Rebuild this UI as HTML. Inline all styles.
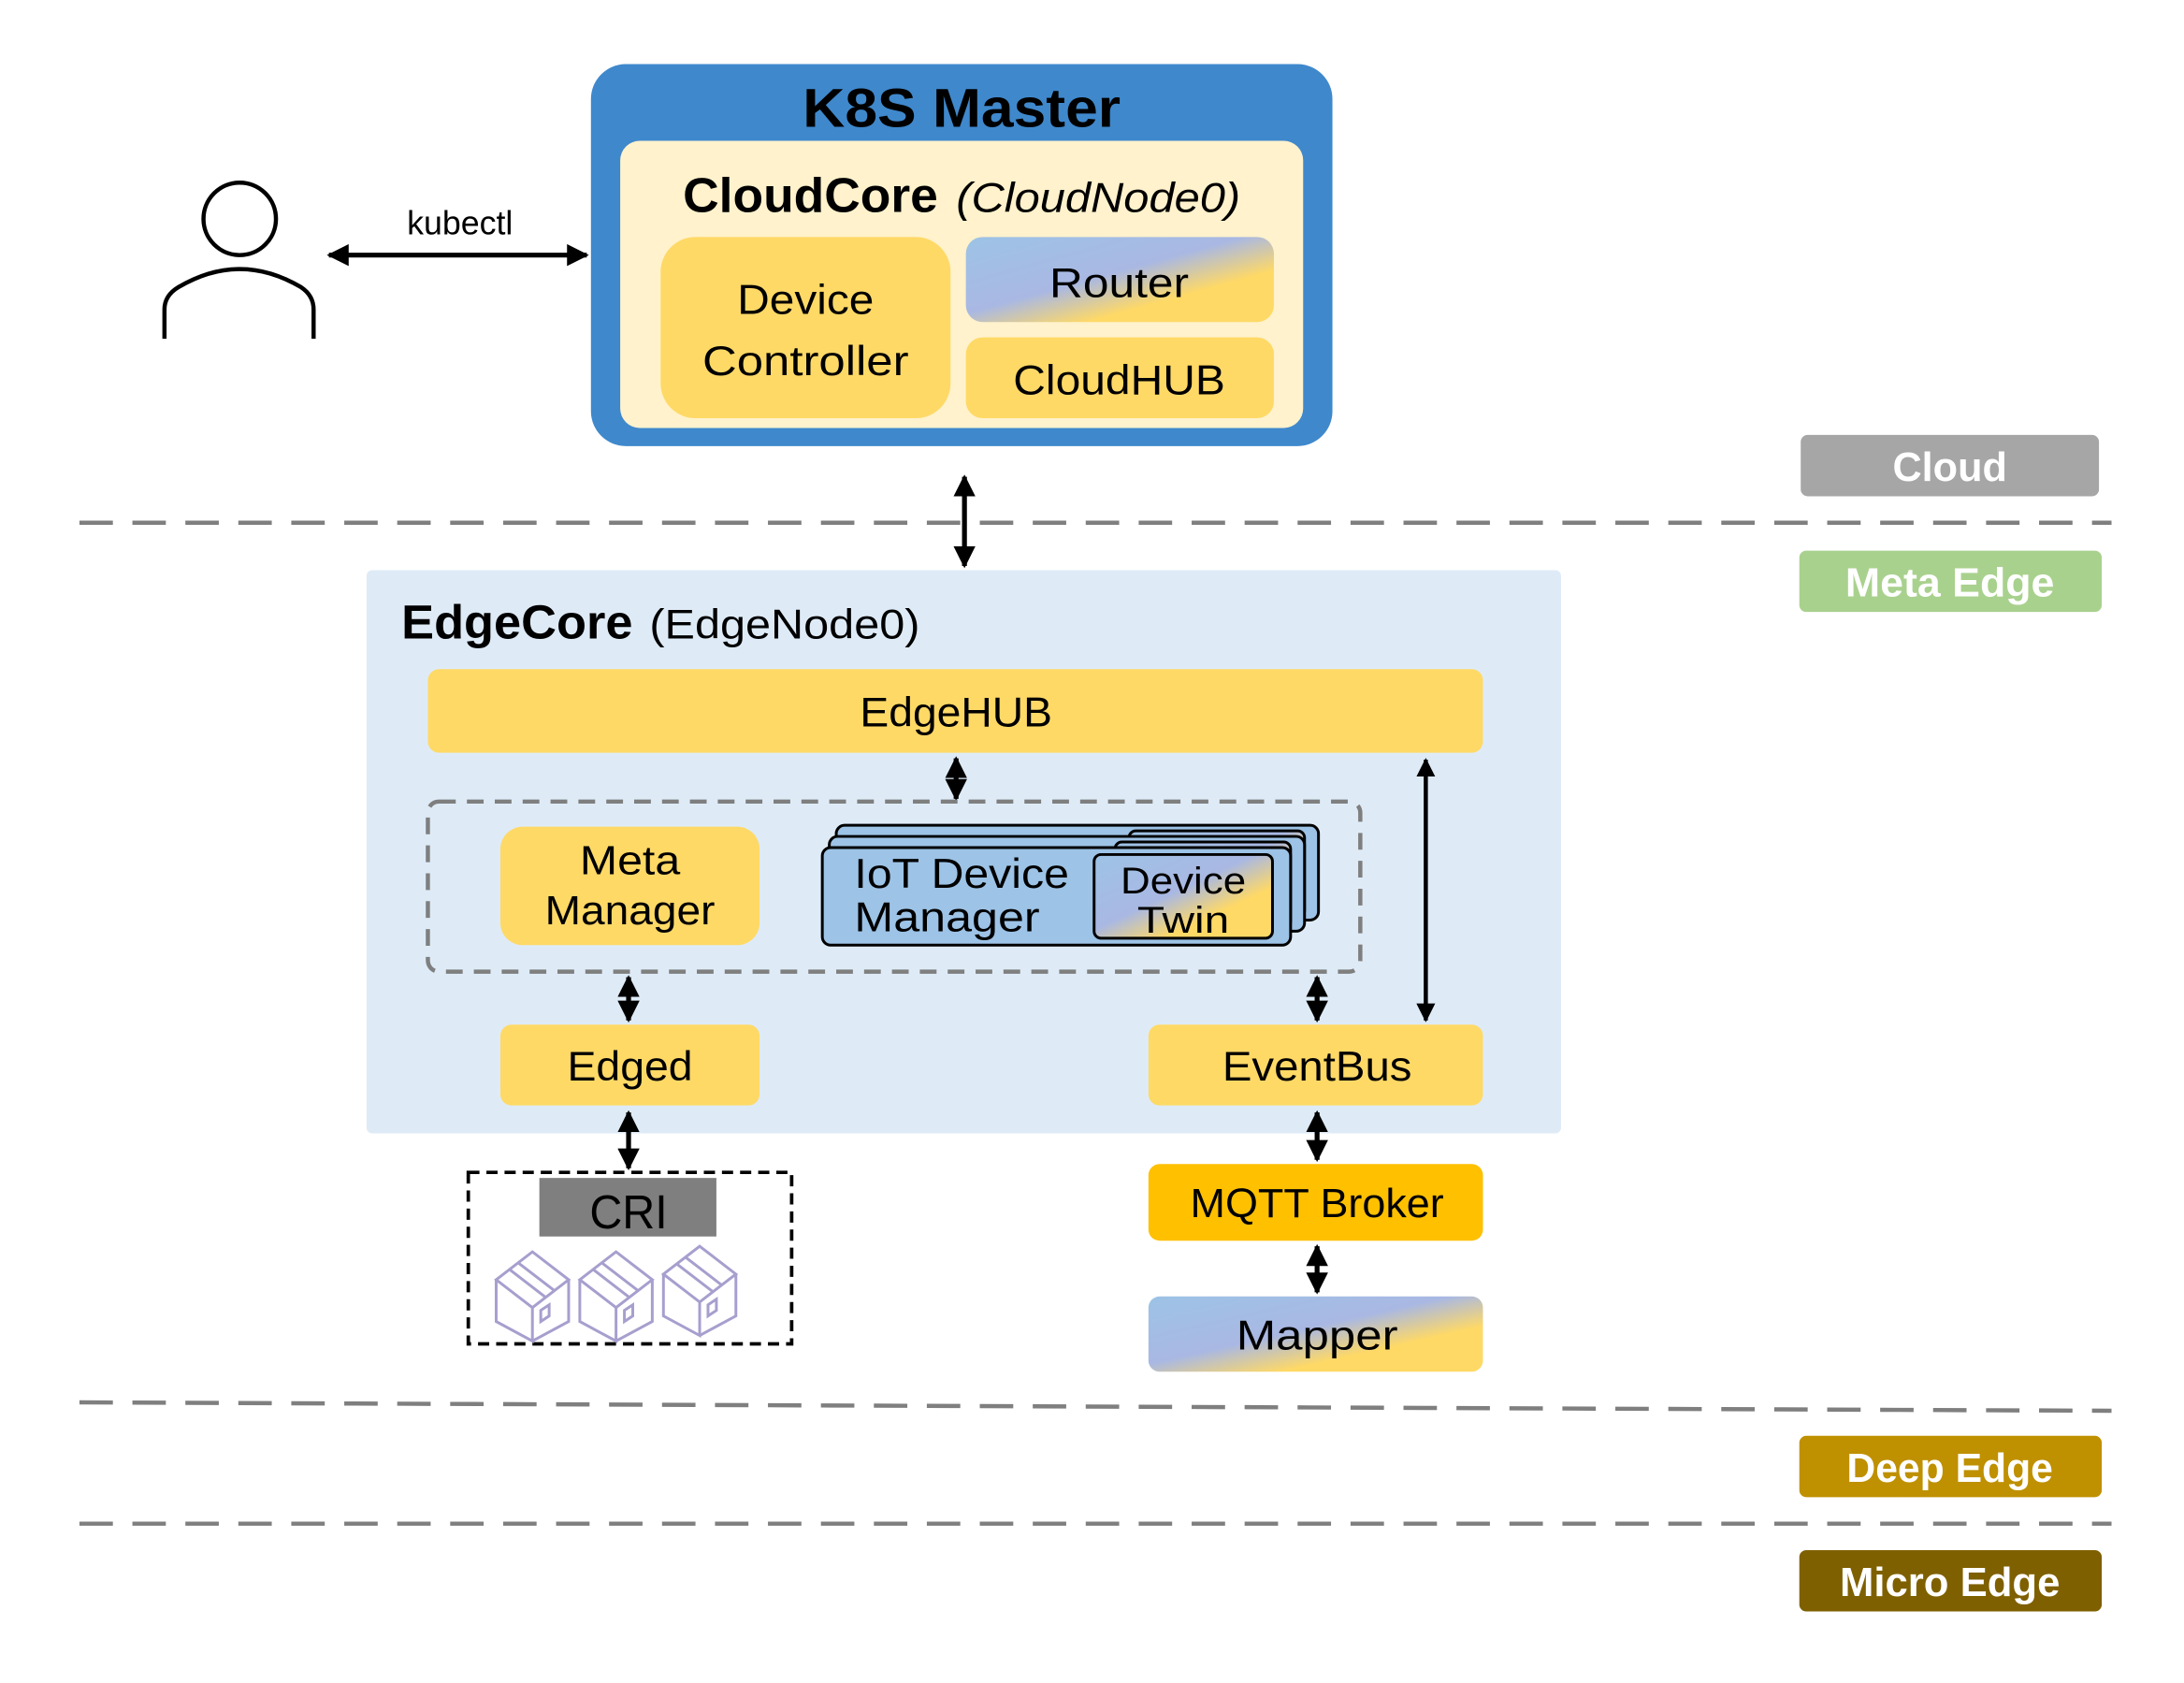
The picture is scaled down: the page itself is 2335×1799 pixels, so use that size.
<!DOCTYPE html>
<html><head><meta charset="utf-8"><style>
html,body{margin:0;padding:0;background:#fff;width:2335px;height:1799px;overflow:hidden}
svg{display:block}
text{font-family:"Liberation Sans",sans-serif}
</style></head><body>
<svg width="2335" height="1799" viewBox="0 0 1567 1207.3" preserveAspectRatio="none" xmlns="http://www.w3.org/2000/svg">
<defs>
<linearGradient id="g" x1="0" y1="0" x2="1" y2="1">
<stop offset="0" stop-color="#9dc3e6"/><stop offset="0.45" stop-color="#a9b8e3"/><stop offset="0.7" stop-color="#ffd966"/><stop offset="1" stop-color="#ffd966"/>
</linearGradient>
<marker id="a" viewBox="0 0 10 10" refX="9" refY="5" markerWidth="4.5" markerHeight="4.5" orient="auto-start-reverse"><path d="M0,0L10,5L0,10z" fill="#000"/></marker>
</defs>
<circle cx="172" cy="157" r="26" fill="none" stroke="#000" stroke-width="3"/>
<path d="M118,243 V222 Q118,212 128,206 Q150,193 172,193 Q194,193 216,206 Q225,212 225,222 V243" fill="none" stroke="#000" stroke-width="3"/>
<text x="330" y="168" font-size="24" text-anchor="middle">kubectl</text>
<line x1="236" y1="183" x2="421" y2="183" stroke="#000" stroke-width="3.5" marker-start="url(#a)" marker-end="url(#a)"/>
<rect x="424" y="46" width="532" height="274" rx="25" fill="#3f88cc"/>
<text x="690" y="91" font-size="39" font-weight="bold" text-anchor="middle" textLength="228" lengthAdjust="spacingAndGlyphs">K8S Master</text>
<rect x="445" y="101" width="490" height="206" rx="14" fill="#fff2cc"/>
<text x="490" y="152" font-size="35" font-weight="bold" textLength="183" lengthAdjust="spacingAndGlyphs">CloudCore</text>
<text x="686" y="152" font-size="30" font-style="italic" textLength="204" lengthAdjust="spacingAndGlyphs">(CloudNode0)</text>
<rect x="474" y="170" width="208" height="130" rx="25" fill="#ffd966"/>
<text x="578" y="225" font-size="30" text-anchor="middle" textLength="98" lengthAdjust="spacingAndGlyphs">Device</text>
<text x="578" y="269" font-size="30" text-anchor="middle" textLength="148" lengthAdjust="spacingAndGlyphs">Controller</text>
<rect x="693" y="170" width="221" height="61" rx="12" fill="url(#g)"/>
<text x="803" y="213" font-size="30" text-anchor="middle" textLength="100" lengthAdjust="spacingAndGlyphs">Router</text>
<rect x="693" y="242" width="221" height="58" rx="12" fill="#ffd966"/>
<text x="803" y="283" font-size="30" text-anchor="middle" textLength="152" lengthAdjust="spacingAndGlyphs">CloudHUB</text>
<line x1="692" y1="342" x2="692" y2="406" stroke="#000" stroke-width="3.5" marker-start="url(#a)" marker-end="url(#a)"/>
<g stroke="#7f7f7f" stroke-width="3" stroke-dasharray="24 14" fill="none">
<line x1="57" y1="375" x2="1515" y2="375"/>
<line x1="57" y1="1006" x2="1515" y2="1012"/>
<line x1="57" y1="1093" x2="1515" y2="1093"/>
</g>
<rect x="1292" y="312" width="214" height="44" rx="5" fill="#a6a6a6"/>
<text x="1399" y="345" font-size="29" font-weight="bold" fill="#fff" text-anchor="middle">Cloud</text>
<rect x="1291" y="395" width="217" height="44" rx="5" fill="#a9d18e"/>
<text x="1399" y="428" font-size="29" font-weight="bold" fill="#fff" text-anchor="middle" textLength="150" lengthAdjust="spacingAndGlyphs">Meta Edge</text>
<rect x="1291" y="1030" width="217" height="44" rx="5" fill="#bf9000"/>
<text x="1399" y="1063" font-size="29" font-weight="bold" fill="#fff" text-anchor="middle" textLength="148" lengthAdjust="spacingAndGlyphs">Deep Edge</text>
<rect x="1291" y="1112" width="217" height="44" rx="5" fill="#7f6000"/>
<text x="1399" y="1145" font-size="29" font-weight="bold" fill="#fff" text-anchor="middle" textLength="158" lengthAdjust="spacingAndGlyphs">Micro Edge</text>
<rect x="263" y="409" width="857" height="404" rx="4" fill="#deebf7"/>
<text x="288" y="458" font-size="34" font-weight="bold" textLength="166" lengthAdjust="spacingAndGlyphs">EdgeCore</text>
<text x="466" y="458" font-size="30" textLength="194" lengthAdjust="spacingAndGlyphs">(EdgeNode0)</text>
<rect x="307" y="480" width="757" height="60" rx="8" fill="#ffd966"/>
<text x="686" y="521" font-size="30" text-anchor="middle" textLength="138" lengthAdjust="spacingAndGlyphs">EdgeHUB</text>
<line x1="686" y1="544" x2="686" y2="573" stroke="#000" stroke-width="3.5" marker-start="url(#a)" marker-end="url(#a)"/>
<rect x="307" y="575" width="669" height="122" rx="8" fill="none" stroke="#7f7f7f" stroke-width="3" stroke-dasharray="12 8"/>
<rect x="359" y="593" width="186" height="85" rx="16" fill="#ffd966"/>
<text x="452" y="627" font-size="29" text-anchor="middle" textLength="72" lengthAdjust="spacingAndGlyphs">Meta</text>
<text x="452" y="663" font-size="29" text-anchor="middle" textLength="122" lengthAdjust="spacingAndGlyphs">Manager</text>
<rect x="600" y="592" width="346" height="68" rx="6" fill="#9dc3e6" stroke="#000" stroke-width="2"/>
<rect x="810" y="596" width="126" height="62" rx="5" fill="url(#g)" stroke="#000" stroke-width="2"/>
<rect x="595" y="600" width="341" height="68" rx="6" fill="#9dc3e6" stroke="#000" stroke-width="2"/>
<rect x="800" y="604" width="126" height="62" rx="5" fill="url(#g)" stroke="#000" stroke-width="2"/>
<rect x="590" y="608" width="336" height="70" rx="6" fill="#9dc3e6" stroke="#000" stroke-width="2"/>
<rect x="785" y="613" width="128" height="60" rx="5" fill="url(#g)" stroke="#000" stroke-width="2"/>
<text x="613" y="637" font-size="30" textLength="154" lengthAdjust="spacingAndGlyphs">IoT Device</text>
<text x="613" y="668" font-size="30" textLength="133" lengthAdjust="spacingAndGlyphs">Manager</text>
<text x="849" y="641" font-size="27" text-anchor="middle" textLength="90" lengthAdjust="spacingAndGlyphs">Device</text>
<text x="849" y="669" font-size="27" text-anchor="middle" textLength="66" lengthAdjust="spacingAndGlyphs">Twin</text>
<line x1="451" y1="701" x2="451" y2="732" stroke="#000" stroke-width="3.5" marker-start="url(#a)" marker-end="url(#a)"/>
<line x1="945" y1="701" x2="945" y2="732" stroke="#000" stroke-width="3.5" marker-start="url(#a)" marker-end="url(#a)"/>
<line x1="1023" y1="545" x2="1023" y2="732" stroke="#000" stroke-width="3" marker-start="url(#a)" marker-end="url(#a)"/>
<rect x="359" y="735" width="186" height="58" rx="8" fill="#ffd966"/>
<text x="452" y="775" font-size="30" text-anchor="middle" textLength="90" lengthAdjust="spacingAndGlyphs">Edged</text>
<rect x="824" y="735" width="240" height="58" rx="8" fill="#ffd966"/>
<text x="945" y="775" font-size="30" text-anchor="middle" textLength="136" lengthAdjust="spacingAndGlyphs">EventBus</text>
<line x1="451" y1="798" x2="451" y2="838" stroke="#000" stroke-width="3.5" marker-start="url(#a)" marker-end="url(#a)"/>
<line x1="945" y1="798" x2="945" y2="832" stroke="#000" stroke-width="3.5" marker-start="url(#a)" marker-end="url(#a)"/>
<rect x="336" y="841" width="232" height="123" fill="none" stroke="#000" stroke-width="2.5" stroke-dasharray="8 5"/>
<rect x="387" y="845" width="127" height="42" fill="#7f7f7f"/>
<text x="451" y="881" font-size="34" text-anchor="middle" textLength="56" lengthAdjust="spacingAndGlyphs">CRI</text>
<g fill="none" stroke="#a79fce" stroke-width="2">
<g id="box">
<path d="M356,918 L382,898 L408,918 L382,938 Z M356,918 V948 L382,962 V938 M408,918 V948 L382,962 M372,906 L398,926 M366,911 L392,931 M388,940 v8 l6,-4 v-8 z"/>
</g>
<use href="#box" x="60"/>
<use href="#box" x="120" y="-4"/>
</g>
<rect x="824" y="835" width="240" height="55" rx="8" fill="#ffc000"/>
<text x="945" y="873" font-size="29" text-anchor="middle" textLength="182" lengthAdjust="spacingAndGlyphs">MQTT Broker</text>
<line x1="945" y1="894" x2="945" y2="927" stroke="#000" stroke-width="3.5" marker-start="url(#a)" marker-end="url(#a)"/>
<rect x="824" y="930" width="240" height="54" rx="8" fill="url(#g)"/>
<text x="945" y="968" font-size="30" text-anchor="middle" textLength="116" lengthAdjust="spacingAndGlyphs">Mapper</text>
</svg>
</body></html>
